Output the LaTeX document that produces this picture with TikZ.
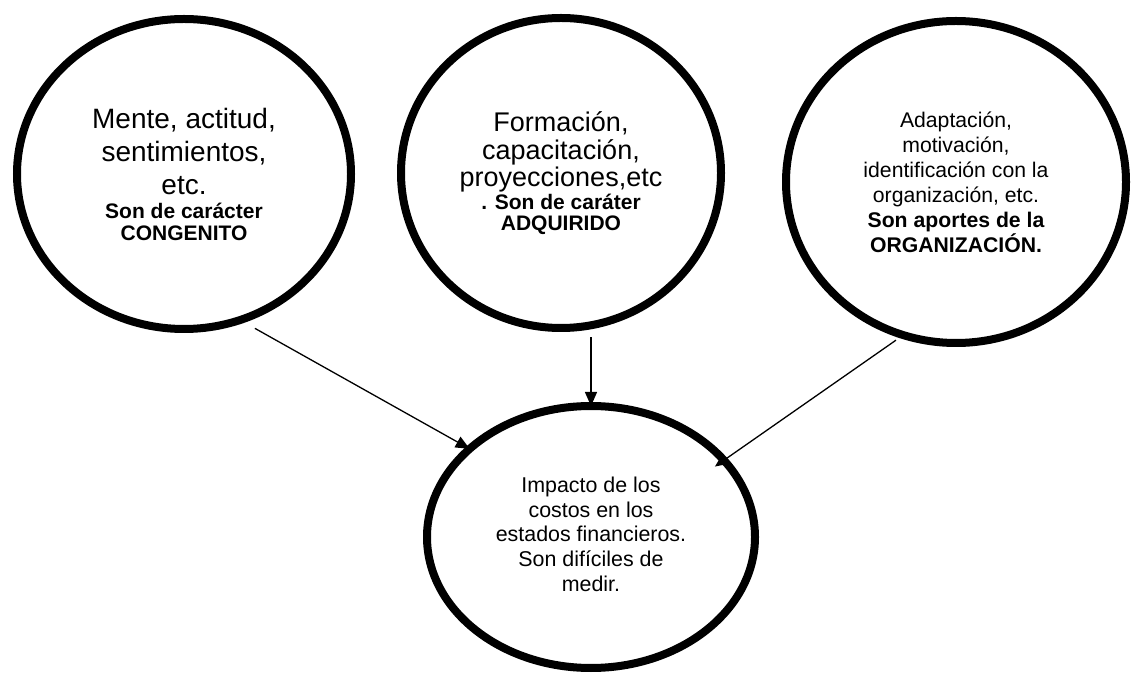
\documentclass[tikz,border=0pt]{standalone}
\usepackage{fontspec}
\setmainfont{Liberation Sans}
\usepackage{tikz}
\usetikzlibrary{shapes.geometric}
\usetikzlibrary{arrows.meta}

\begin{document}
\begin{tikzpicture}[x=0.5pt,y=0.5pt,
	burbuja/.style={ellipse,draw,line width=4pt,inner sep=0pt,outer sep=0pt,align=center},
	flecha/.style={-{Triangle[length=7pt,width=6pt]},line width=0.65pt}]
\useasboundingbox (0,0) rectangle (1135,675);
% los tres circulos de arriba
\node[burbuja,minimum width=167pt,minimum height=155pt,font=\fontsize{14}{16.5}\selectfont] (mente) at (184,501)
	{Mente, actitud,\\ sentimientos,\\ etc.\\[-4.5pt]
	{\bfseries\fontsize{10.5}{11}\selectfont Son de carácter}\\[-5.5pt]
	{\bfseries\fontsize{10.5}{11}\selectfont CONGENITO}};
\node[burbuja,minimum width=160pt,minimum height=155pt,font=\fontsize{13.5}{13.8}\selectfont] (formacion) at (561,502)
	{Formación,\\ capacitación,\\ proyecciones,etc\\[-2.5pt]
	{\bfseries\fontsize{10.5}{11}\selectfont . Son de caráter}\\[-3.3pt]
	{\bfseries\fontsize{10.5}{11}\selectfont ADQUIRIDO}};
\node[burbuja,minimum width=170pt,minimum height=161pt,font=\fontsize{10.6}{12.5}\selectfont] (adaptacion) at (956,493)
	{Adaptación,\\ motivación,\\ identificación con la\\ organización, etc.\\
	{\bfseries Son aportes de la}\\ {\bfseries ORGANIZACIÓN.}};
% el de abajo
\node[burbuja,minimum width=164pt,minimum height=131pt,font=\fontsize{10.7}{12.4}\selectfont] (impacto) at (591,138)
	{\mbox{}\\[-7.4pt] Impacto de los\\ costos en los\\ estados financieros.\\ Son difíciles de\\ medir.};
% flechas
\draw[flecha,shorten <=8.5pt] (mente.-69.8) -- (impacto.144.3);
\draw[flecha,shorten <=6pt] (impacto.north |- formacion.-79) -- (impacto.north);
\draw[flecha,shorten <=4.5pt,shorten >=-5.5pt] (adaptacion.-109.3) -- (impacto.30.9);
\end{tikzpicture}
\end{document}
